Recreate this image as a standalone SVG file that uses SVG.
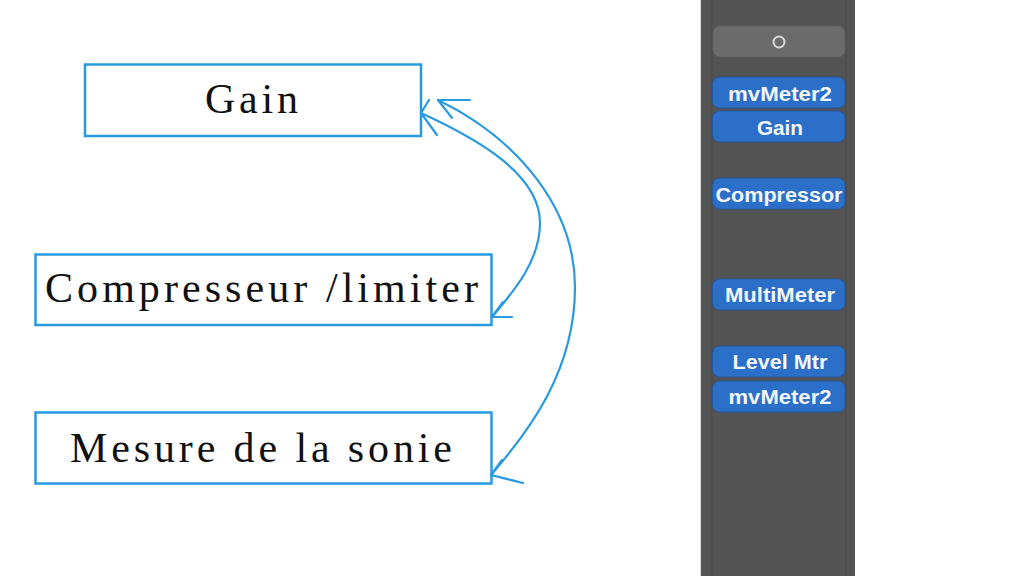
<svg xmlns="http://www.w3.org/2000/svg" width="1024" height="576" viewBox="0 0 1024 576">
<style>
.box{fill:#ffffff;stroke:#2a9ae0;stroke-width:2.5}
.lbl{font-family:"Liberation Serif","Times New Roman",serif;font-size:42px;fill:#111111;text-anchor:middle}
.conn{fill:none;stroke:#2a9ae0;stroke-width:2.2;stroke-linecap:round;stroke-linejoin:round}
.btn{fill:#2c6fc8;stroke:#24589e;stroke-width:1}
.btxt{font-family:"Liberation Sans",Arial,sans-serif;font-weight:bold;font-size:20px;fill:#f2f6fb;text-anchor:middle}
</style>
<rect x="0" y="0" width="1024" height="576" fill="#ffffff"/>
<g id="panel">
  <rect x="701" y="0" width="154" height="576" fill="#535353"/>
  <line x1="701.5" y1="0" x2="701.5" y2="576" stroke="#5e5e5e" stroke-width="1.5"/>
  <line x1="712" y1="0" x2="712" y2="576" stroke="#4c4c4c" stroke-width="1"/>
  <line x1="846" y1="0" x2="846" y2="576" stroke="#4c4c4c" stroke-width="1"/>
  <line x1="854.5" y1="0" x2="854.5" y2="576" stroke="#5a5a5a" stroke-width="1"/>
  <rect x="713" y="26" width="132" height="31" rx="7" fill="#6b6b6b" stroke="#5f5f5f"/>
  <circle cx="779" cy="42" r="5.5" fill="none" stroke="#d8d8d8" stroke-width="2"/>
</g>
<g id="btn-mvmeter2-top"><rect class="btn" x="712.5" y="77" width="132.5" height="31" rx="7"/><text class="btxt" x="780" y="101" textLength="104" lengthAdjust="spacingAndGlyphs">mvMeter2</text></g>
<g id="btn-gain"><rect class="btn" x="712.5" y="111" width="132.5" height="31" rx="7"/><text class="btxt" x="780" y="135" textLength="46" lengthAdjust="spacingAndGlyphs">Gain</text></g>
<g id="btn-compressor"><rect class="btn" x="712.5" y="178" width="132.5" height="31" rx="7"/><text class="btxt" x="779" y="202" textLength="127" lengthAdjust="spacingAndGlyphs">Compressor</text></g>
<g id="btn-multimeter"><rect class="btn" x="712.5" y="279" width="132.5" height="31" rx="7"/><text class="btxt" x="780" y="302" textLength="110" lengthAdjust="spacingAndGlyphs">MultiMeter</text></g>
<g id="btn-levelmtr"><rect class="btn" x="712.5" y="346" width="132.5" height="31" rx="7"/><text class="btxt" x="780" y="369" textLength="95" lengthAdjust="spacingAndGlyphs">Level Mtr</text></g>
<g id="btn-mvmeter2-bottom"><rect class="btn" x="712.5" y="381" width="132.5" height="31" rx="7"/><text class="btxt" x="780" y="404" textLength="103" lengthAdjust="spacingAndGlyphs">mvMeter2</text></g>

<g id="node-gain"><rect class="box" x="85" y="64.5" width="336" height="71.5"/><text class="lbl" x="251.5" y="113" textLength="93" lengthAdjust="spacing">Gain</text></g>
<g id="node-compresseur"><rect class="box" x="35.5" y="254.5" width="456" height="70.5"/><text class="lbl" x="261.5" y="302" textLength="433" lengthAdjust="spacing">Compresseur /limiter</text></g>
<g id="node-mesure"><rect class="box" x="35.5" y="412.5" width="456" height="71"/><text class="lbl" x="261" y="461.5" textLength="382" lengthAdjust="spacing">Mesure de la sonie</text></g>

<g id="connectors">
  <path class="conn" d="M421,113 C480,140 540,175 540,223 C540,260 515,290 492,317"/>
  <path class="conn" d="M429,100 L421,113 L437,135"/>
  <path class="conn" d="M512,317 L492,317 L503,302"/>
  <path class="conn" d="M438,100 C520,140 575,210 575,287 C575,370 530,430 491,475"/>
  <path class="conn" d="M470,100 L438,100 L452,118"/>
  <path class="conn" d="M523,483 L491,475 L502,460"/>
</g>
</svg>
